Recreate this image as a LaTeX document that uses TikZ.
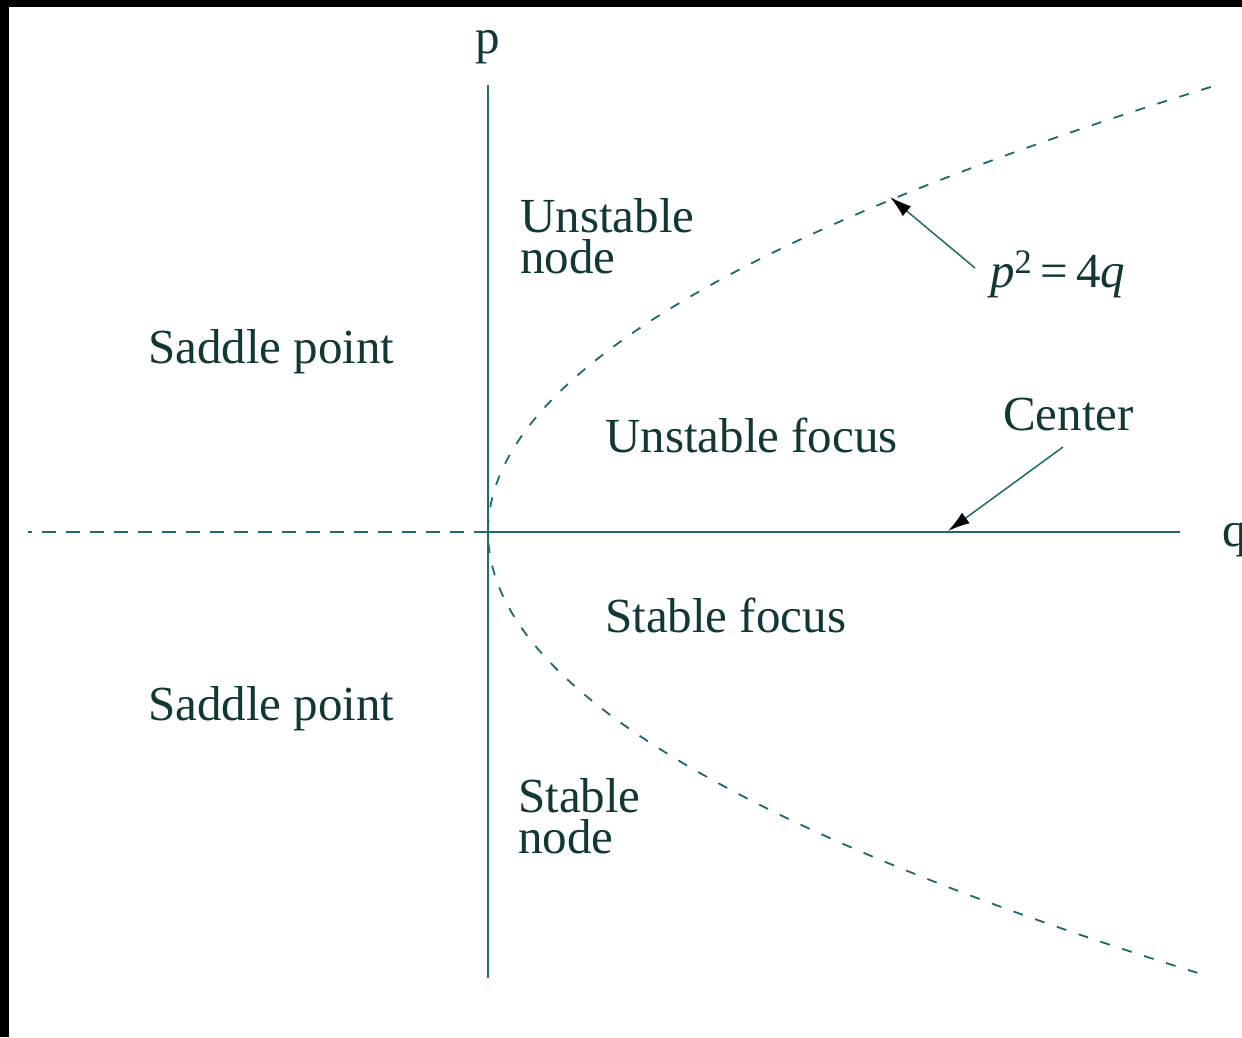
\documentclass[tikz,border=0pt]{standalone}
\usepackage{fontspec}
\setmainfont{Liberation Serif}
\usetikzlibrary{arrows.meta}
\definecolor{inkc}{RGB}{18,55,55}
\definecolor{linec}{RGB}{30,105,105}
\tikzset{
  lbl/.style={inner sep=0pt, text=inkc, align=left, font=\fontsize{49}{41}\selectfont},
  axis/.style={draw=linec, line width=2pt},
  dashaxis/.style={draw=linec, line width=2pt, dash pattern=on 14pt off 10pt},
  curve/.style={draw=linec, line width=1.8pt, dash pattern=on 10pt off 13pt},
  pointer/.style={draw=linec, line width=1.5pt, -{Latex[length=22pt,width=13pt,black]}}
}
\begin{document}
\begin{tikzpicture}[x=1pt,y=-1pt]
\useasboundingbox (0,0) rectangle (1242,1037);
\fill[white] (0,0) rectangle (1242,1037);
\fill[black] (0,0) rectangle (1242,7);
\fill[black] (0,0) rectangle (9,1037);
% axes
\coordinate (O) at (488,532);
\coordinate (ptop) at (488,85);
\coordinate (pbot) at (488,978);
\coordinate (qend) at (1180,532);
\coordinate (qstart) at (28,532);
\draw[axis] (ptop) -- (pbot);
\draw[axis] (O) -- (qend);
\draw[dashaxis] (O) -- (qstart);
% parabola p^2 = 4q
\draw[curve] plot[domain=-4.45:4.43, samples=120, smooth] ({488+36.5*\x*\x},{532+100*\x});
% axis labels
\node[lbl, anchor=base] (plab) at (488,53) {p};
\node[lbl, anchor=base west] (qlab) at (1222,546) {q};
% region labels (multi-line nodes: base = last line)
\node[lbl, anchor=base west] (un) at (520,273) {Unstable\\node};
\node[lbl, anchor=base west] (sp1) at (148,363) {Saddle point};
\node[lbl, anchor=base west] (uf) at (605,452) {Unstable focus};
\node[lbl, anchor=base west] (sf) at (605,632) {Stable focus};
\node[lbl, anchor=base west] (sp2) at (148,720) {Saddle point};
\node[lbl, anchor=base west] (sn) at (518,853) {Stable\\node};
\node[lbl, anchor=base west] (cen) at (1003,430) {Center};
\node[lbl, anchor=base west] (par) at (990,287) {\itshape p\upshape\raisebox{4pt}{\textsuperscript{2}}\,=\,4\itshape q};
% pointers
\coordinate (parfrom) at (975,268);
\coordinate (partip) at (890,197);
\coordinate (cenfrom) at (1063,447);
\coordinate (centip) at (948,531);
\draw[pointer] (parfrom) -- (partip);
\draw[pointer] (cenfrom) -- (centip);
\end{tikzpicture}
\end{document}
